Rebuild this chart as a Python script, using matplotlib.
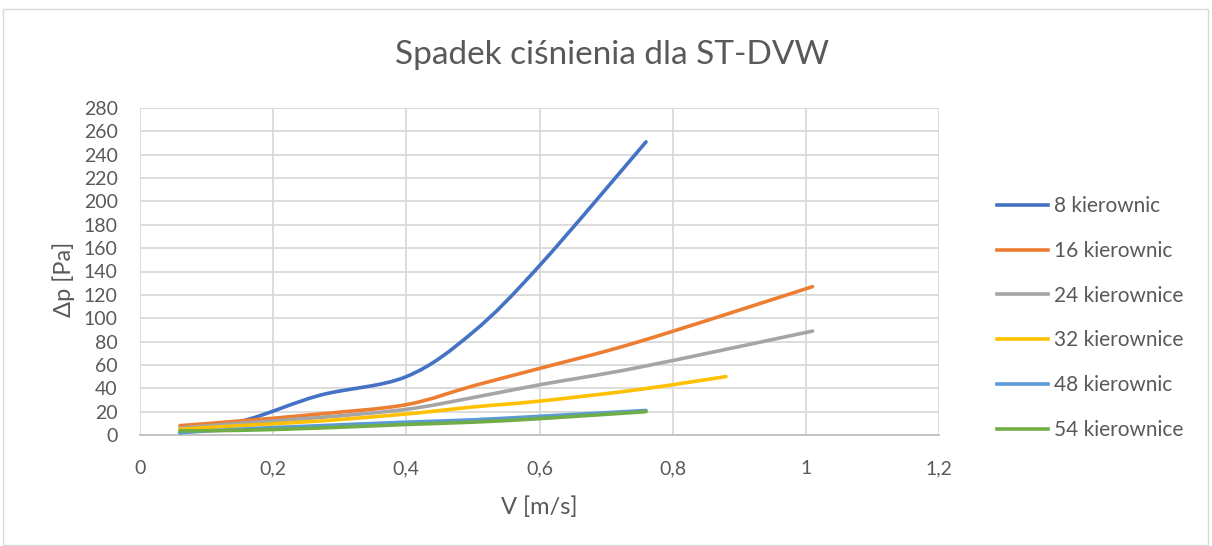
import matplotlib
matplotlib.use("Agg")
import matplotlib.pyplot as plt
from matplotlib.path import Path
from matplotlib.patches import PathPatch, Rectangle
from matplotlib.lines import Line2D
from matplotlib.ticker import FuncFormatter, MultipleLocator

plt.rcParams['font.family'] = ['Lato', 'DejaVu Sans']

title = "Spadek ciśnienia dla ST-DVW"
xlabel = "V [m/s]"
ylabel = "Δp [Pa]"

names = ["8 kierownic", "16 kierownic", "24 kierownice", "32 kierownice", "48 kierownic", "54 kierownice"]
colors = ["#4472C4", "#ED7D31", "#A5A5A5", "#FFC000", "#5B9BD5", "#70AD47"]

x8 = [0.06, 0.16, 0.27, 0.4, 0.5, 0.6, 0.76]
y8 = [2, 13, 34, 50, 88, 145, 251]
x16 = [0.06, 0.15, 0.27, 0.4, 0.5, 0.6, 0.75, 1.01]
y16 = [8, 12, 18, 26, 42, 57, 80, 127]
x24 = [0.06, 0.15, 0.27, 0.4, 0.5, 0.6, 0.75, 1.01]
y24 = [6, 10, 15, 22, 32, 43, 58, 89]
x32 = [0.06, 0.15, 0.27, 0.4, 0.5, 0.6, 0.75, 0.88]
y32 = [5, 8, 12, 18, 24, 29, 39, 50]
x48 = [0.06, 0.15, 0.27, 0.4, 0.5, 0.6, 0.76]
y48 = [2, 5, 8, 11, 13, 16, 21]
x54 = [0.06, 0.15, 0.27, 0.4, 0.5, 0.6, 0.76]
y54 = [3.5, 4, 6, 9, 11, 14, 20]

series = [(x8, y8), (x16, y16), (x24, y24), (x32, y32), (x48, y48), (x54, y54)]


def smooth_path(xs, ys, t=1/6):
    verts = [(xs[0], ys[0])]
    codes = [Path.MOVETO]
    n = len(xs)
    for i in range(n - 1):
        x0, y0 = (xs[i-1], ys[i-1]) if i > 0 else (xs[i], ys[i])
        x1, y1 = xs[i], ys[i]
        x2, y2 = xs[i+1], ys[i+1]
        x3, y3 = (xs[i+2], ys[i+2]) if i + 2 < n else (xs[i+1], ys[i+1])
        c1 = (x1 + (x2 - x0) * t, y1 + (y2 - y0) * t)
        c2 = (x2 - (x3 - x1) * t, y2 - (y3 - y1) * t)
        verts += [c1, c2, (x2, y2)]
        codes += [Path.CURVE4] * 3
    return Path(verts, codes)


fig = plt.figure(figsize=(12.12, 5.46), dpi=100)
fig.patches.append(Rectangle((3/1212, 1/546), 1205/1212, 536/546, transform=fig.transFigure,
                             fill=False, edgecolor="#d9d9d9", linewidth=1))
ax = fig.add_axes([140/1212, 1 - 435/546, 799/1212, 327/546])

for (xs, ys), c in zip(series, colors):
    p = smooth_path(xs, ys)
    ax.add_patch(PathPatch(p, facecolor="none", edgecolor=c, linewidth=2.6,
                           capstyle="round", joinstyle="round", zorder=3))

ax.set_xlim(0, 1.2)
ax.set_ylim(0, 280)
ax.xaxis.set_major_locator(MultipleLocator(0.2))
ax.yaxis.set_major_locator(MultipleLocator(20))
fmt = FuncFormatter(lambda v, p: ("%g" % round(v, 2)).replace(".", ","))
ax.xaxis.set_major_formatter(fmt)
ax.grid(True, color="#d9d9d9", linewidth=1.3)
ax.set_axisbelow(True)
for s in ["top", "right", "left"]:
    ax.spines[s].set_visible(False)
ax.spines["bottom"].set_color("#bfbfbf")
ax.spines["bottom"].set_linewidth(1.3)
ax.tick_params(length=0, labelsize=14, colors="#595959")
ax.tick_params(axis="y", pad=16)
ax.tick_params(axis="x", pad=18)

ax.set_xlabel(xlabel, fontsize=17, color="#595959", labelpad=14)
ax.set_ylabel(ylabel, fontsize=17, color="#595959", labelpad=6)
ax.yaxis.label.set_y(0.477)
fig.text(0.505, 1 - 55/546, title, ha="center", va="center", fontsize=24, color="#595959")

handles = [Line2D([0], [0], color=c, linewidth=2.6) for c in colors]
leg = fig.legend(handles, names, loc="center left", bbox_to_anchor=(978/1212, 1 - 318/546),
                 frameon=False, fontsize=15, labelspacing=1.19, handlelength=2.45, handletextpad=0.3)
for t in leg.get_texts():
    t.set_color("#595959")

fig.savefig("out.png", dpi=100, facecolor="white")
